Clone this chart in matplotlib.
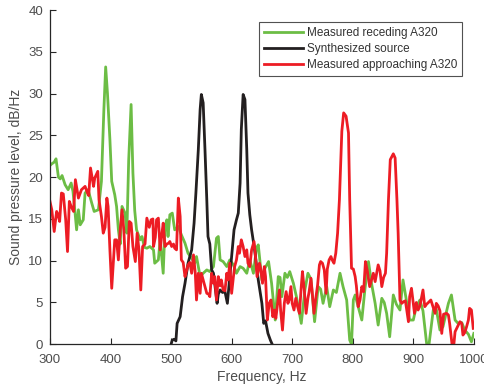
import matplotlib
matplotlib.use("Agg")
import matplotlib.pyplot as plt

plt.rcParams['font.family'] = ['Liberation Sans', 'DejaVu Sans']

# Measured receding A320 (green)
rec_f = [300, 303, 307, 310, 314, 317, 320, 325, 330, 335, 338, 341, 344, 347, 350, 355, 358, 363, 369, 373,
         380, 385, 389, 392, 395, 399, 402, 407, 410, 413, 416, 419, 424, 427, 430, 434, 437, 440, 443, 449,
         452, 456, 460, 465, 471, 473, 479, 482, 487, 490, 493, 495, 498, 502, 506, 512, 517, 523, 528, 534,
         539, 542, 545, 548, 553, 559, 564, 570, 575, 578, 581, 586, 592, 597, 603, 608, 614, 619, 625, 630,
         636, 641, 644, 650, 655, 661, 666, 672, 677, 680, 683, 688, 692, 696, 702, 707, 715, 721, 726, 731,
         737, 743, 747, 751, 757, 762, 768, 773, 779, 784, 790, 795, 798, 801, 804, 809, 815, 820, 826, 831,
         837, 842, 848, 852, 856, 861, 867, 872, 878, 883, 888, 894, 900, 905, 911, 916, 922, 926, 933, 938,
         944, 949, 958, 963, 969, 974, 980, 985, 991, 996, 1000]
rec_db = [21.4, 21.6, 21.8, 22.2, 20.0, 19.8, 20.2, 19.1, 18.5, 19.3, 18.3, 16.1, 13.7, 16.1, 14.3, 14.9, 18.1, 18.5, 16.9, 15.9,
          16.1, 19.5, 28.0, 33.2, 30.0, 24.5, 19.5, 17.9, 16.5, 13.7, 12.0, 16.5, 15.7, 13.3, 22.0, 28.7, 20.5, 16.0, 13.7, 12.5,
          12.9, 11.6, 11.5, 11.7, 11.3, 9.7, 10.1, 12.5, 8.5, 14.1, 14.9, 12.9, 15.5, 15.7, 13.7, 14.1, 13.1, 12.1, 10.9, 10.3,
          9.7, 10.5, 9.3, 8.1, 8.5, 8.9, 8.7, 9.3, 12.7, 12.9, 10.1, 9.9, 9.3, 10.1, 9.5, 8.5, 9.3, 9.1, 8.5, 10.1,
          8.5, 11.5, 11.9, 7.7, 9.1, 9.9, 7.3, 2.9, 8.1, 8.0, 5.7, 8.5, 8.0, 8.7, 7.3, 5.7, 2.5, 6.5, 8.5, 7.8,
          2.7, 6.9, 6.6, 4.9, 6.9, 4.5, 6.5, 6.2, 8.5, 6.9, 5.3, 0.5, 0.0, 5.3, 5.9, 4.5, 2.9, 6.5, 9.9, 7.3,
          4.9, 2.3, 5.5, 5.0, 3.7, 0.9, 5.9, 4.8, 4.1, 7.7, 5.5, 2.9, 2.9, 4.5, 5.3, 4.0, 0.1, 0.0, 4.1, 4.2,
          1.7, 2.1, 4.9, 5.9, 2.9, 2.5, 2.6, 1.7, 1.2, 0.3, 1.3]

# Synthesized source (black)
syn_f = [500, 502, 505, 508, 510, 515, 519, 523, 528, 534, 538, 541, 545, 548, 550, 553, 556, 559, 561, 564,
         567, 570, 572, 576, 578, 581, 585, 589, 593, 596, 600, 604, 608, 611, 614, 616, 619, 622, 625, 627,
         630, 633, 638, 644, 650, 653, 656, 660, 664, 667]
syn_db = [0.0, 0.5, 0.6, 0.4, 2.5, 3.3, 5.7, 7.3, 9.7, 11.3, 14.5, 18.1, 23.3, 28.1, 29.9, 28.9, 23.3, 17.3, 12.9, 12.0,
          8.9, 8.5, 7.3, 4.9, 6.0, 6.5, 6.2, 6.3, 4.9, 7.3, 10.5, 13.7, 14.9, 15.7, 19.3, 25.7, 29.9, 29.3, 23.3, 18.1,
          15.5, 13.7, 11.3, 7.7, 4.9, 2.5, 2.8, 1.3, 0.5, 0.0]

# Measured approaching A320 (red)
app_f = [300, 303, 307, 311, 313, 316, 319, 322, 326, 329, 332, 335, 339, 342, 347, 352, 358, 362, 364, 367,
         372, 374, 379, 381, 385, 388, 391, 394, 396, 399, 402, 405, 407, 410, 413, 416, 419, 422, 425, 428,
         431, 434, 437, 441, 444, 447, 450, 453, 457, 460, 464, 467, 470, 471, 474, 476, 479, 482, 485, 487,
         490, 493, 496, 498, 501, 504, 506, 509, 512, 515, 517, 520, 523, 526, 528, 531, 534, 537, 540, 542,
         545, 548, 550, 553, 556, 559, 562, 564, 567, 570, 572, 575, 578, 581, 583, 586, 589, 592, 594, 597,
         600, 603, 605, 608, 611, 613, 616, 619, 622, 625, 627, 630, 633, 637, 639, 642, 646, 648, 651, 654,
         656, 659, 662, 665, 668, 671, 673, 676, 679, 681, 684, 687, 690, 693, 695, 698, 700, 703, 706, 709,
         712, 715, 717, 720, 723, 726, 728, 731, 733, 736, 739, 742, 745, 747, 750, 753, 756, 758, 761, 764,
         766, 769, 772, 775, 778, 780, 782, 785, 789, 793, 795, 797, 798, 801, 804, 806, 809, 812, 815, 818,
         821, 824, 828, 831, 834, 837, 839, 842, 845, 848, 851, 854, 856, 859, 862, 867, 870, 873, 875, 878,
         881, 884, 887, 892, 894, 897, 902, 905, 908, 911, 916, 919, 922, 925, 929, 936, 938, 941, 944, 947,
         950, 955, 958, 960, 962, 964, 967, 969, 977, 980, 982, 985, 988, 991, 993, 996, 999]
app_db = [17.1, 16.1, 13.5, 15.9, 15.6, 14.7, 18.1, 18.0, 14.9, 11.1, 17.1, 16.5, 15.9, 19.7, 17.5, 18.5, 18.9, 18.1, 17.8, 21.1,
          18.9, 19.9, 20.7, 17.3, 15.3, 13.3, 14.0, 17.5, 16.5, 11.3, 6.7, 10.1, 12.5, 12.5, 10.1, 13.7, 16.1, 13.7, 9.1, 9.3,
          14.7, 14.5, 11.7, 9.9, 13.3, 11.3, 6.5, 11.7, 12.0, 15.1, 14.0, 14.9, 15.0, 11.7, 12.8, 14.9, 15.1, 11.3, 13.3, 14.5,
          11.7, 12.0, 12.1, 12.3, 11.7, 12.0, 11.5, 11.3, 17.5, 15.3, 10.1, 9.8, 8.1, 8.9, 9.5, 9.8, 8.5, 10.7, 8.5, 5.3,
          8.5, 6.1, 8.5, 7.7, 6.9, 6.1, 6.0, 5.7, 8.5, 7.3, 8.1, 5.3, 8.1, 7.0, 7.7, 6.5, 6.4, 8.5, 7.7, 9.7,
          6.1, 8.1, 9.3, 10.1, 11.7, 10.9, 12.5, 11.7, 10.5, 11.3, 9.7, 9.3, 11.3, 12.3, 10.9, 8.1, 9.7, 9.0, 7.3, 9.3,
          8.1, 2.9, 4.9, 5.3, 3.3, 4.1, 3.1, 4.9, 6.5, 4.0, 1.7, 4.9, 6.3, 4.9, 5.3, 6.9, 4.9, 4.1, 5.5, 4.5,
          3.7, 6.9, 8.7, 6.5, 3.7, 5.5, 6.3, 7.9, 6.3, 3.7, 5.5, 7.1, 9.5, 9.9, 9.7, 8.9, 6.1, 9.0, 10.1, 10.5,
          10.1, 9.7, 10.9, 13.3, 17.3, 21.3, 25.5, 27.7, 27.3, 25.3, 17.3, 12.0, 9.1, 9.0, 8.1, 7.0, 4.5, 5.3, 6.9, 6.3,
          9.9, 8.8, 6.9, 7.7, 8.5, 7.5, 8.3, 9.5, 8.8, 6.9, 8.0, 8.5, 10.9, 17.3, 22.1, 22.8, 22.3, 17.3, 13.3, 5.3,
          4.9, 5.1, 5.2, 2.7, 5.7, 6.7, 3.7, 5.0, 4.1, 4.6, 6.5, 4.5, 4.8, 5.0, 5.3, 3.7, 4.9, 4.6, 4.0, 1.3,
          3.6, 3.7, 3.5, 2.5, 1.3, 0.0, 0.0, 1.5, 2.7, 2.5, 1.1, 1.4, 2.1, 2.9, 4.3, 4.1, 1.9]

labels = ["Measured receding A320", "Synthesized source", "Measured approaching A320"]
x_ticks = [300, 400, 500, 600, 700, 800, 900, 1000]
y_ticks = [0, 5, 10, 15, 20, 25, 30, 35, 40]

fig = plt.figure(figsize=(4.85, 3.89), dpi=100)
ax = fig.add_axes([0.103, 0.115, 0.874, 0.859])

ax.plot(rec_f, rec_db, color='#6cbd45', lw=2.0, label=labels[0])
ax.plot(syn_f, syn_db, color='#231f20', lw=2.0, label=labels[1])
ax.plot(app_f, app_db, color='#ed1c24', lw=2.0, label=labels[2])

ax.set_xlim(300, 1000)
ax.set_ylim(0, 40)
ax.set_xticks(x_ticks)
ax.set_yticks(y_ticks)
ax.tick_params(direction='in', length=4, width=0.8, colors='#262626', labelcolor='#4d4d4d', labelsize=9.5)
ax.tick_params(axis='x', pad=7)
ax.tick_params(axis='y', pad=5)
ax.spines['top'].set_visible(False)
ax.spines['right'].set_visible(False)
for s in ('left', 'bottom'):
    ax.spines[s].set_color('#262626')
    ax.spines[s].set_linewidth(0.9)

ax.set_xlabel("Frequency, Hz", fontsize=10, color='#4d4d4d', labelpad=3)
ax.set_ylabel("Sound pressure level, dB/Hz", fontsize=10, color='#4d4d4d', labelpad=4)

leg = ax.legend(loc='upper right', bbox_to_anchor=(0.972, 0.963), fontsize=8.5, frameon=True, fancybox=False,
                handlelength=3.3, handletextpad=0.35, borderpad=0.4, labelspacing=0.33, borderaxespad=0)
leg.get_frame().set_edgecolor('#262626')
leg.get_frame().set_linewidth(0.8)
for t in leg.get_texts():
    t.set_color('#333333')

fig.savefig("out.png", dpi=100)
